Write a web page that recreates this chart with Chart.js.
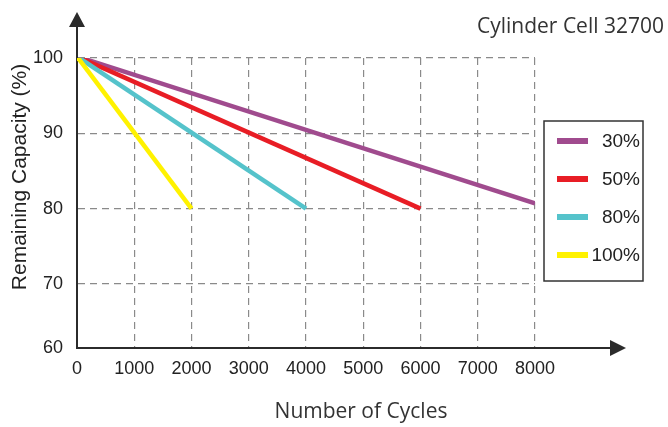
<!DOCTYPE html>
<html><head><meta charset="utf-8">
<style>html,body{margin:0;padding:0;background:#fff;} canvas{display:block;}</style>
<script src="https://cdn.jsdelivr.net/npm/chart.js@4/dist/chart.umd.min.js"></script>
</head><body>
<canvas id="c" width="668" height="427"></canvas>
<script>
const seriesLabels = ['30%', '50%', '80%', '100%'];
const cycles30 = [0, 8000];  const capacity30 = [100.2, 80.7];
const cycles50 = [0, 6000];  const capacity50 = [100.2, 80];
const cycles80 = [0, 4000];  const capacity80 = [100.2, 80];
const cycles100 = [0, 2000]; const capacity100 = [100.2, 80];
const xTicks = [0, 1000, 2000, 3000, 4000, 5000, 6000, 7000, 8000];
const yTicks = [61.5, 70, 80, 90, 100];
const yTickLabels = ['60', '70', '80', '90', '100'];
const chartTitle = 'Cylinder Cell 32700';
const xTitle = 'Number of Cycles';
const yTitle = 'Remaining Capacity (%)';
const colors = ['#a04b8e', '#e81d25', '#55c3cb', '#fff200'];

const pts = (xs, ys) => xs.map((x, i) => ({x, y: ys[i]}));
const seriesX = [cycles30, cycles50, cycles80, cycles100];
const seriesY = [capacity30, capacity50, capacity80, capacity100];

const AXIS = '#2b2b2b';

const decor = {
  id: 'decor',
  afterDraw(chart) {
    const ctx = chart.ctx, a = chart.chartArea;
    ctx.save();
    // axis extensions + arrows
    ctx.strokeStyle = AXIS; ctx.fillStyle = AXIS; ctx.lineWidth = 2;
    ctx.beginPath(); ctx.moveTo(a.left, a.top); ctx.lineTo(a.left, 26); ctx.stroke();
    ctx.beginPath(); ctx.moveTo(a.left - 8, 27); ctx.lineTo(a.left + 8, 27); ctx.lineTo(a.left, 12); ctx.closePath(); ctx.fill();
    ctx.beginPath(); ctx.moveTo(a.right, a.bottom); ctx.lineTo(611, a.bottom); ctx.stroke();
    ctx.beginPath(); ctx.moveTo(610, a.bottom - 8); ctx.lineTo(610, a.bottom + 8); ctx.lineTo(626, a.bottom); ctx.closePath(); ctx.fill();

    // titles
    ctx.fillStyle = '#333';
    ctx.font = '21px "Open Sans"';
    ctx.textAlign = 'right'; ctx.textBaseline = 'middle';
    ctx.fillText(chartTitle, 664, 27);
    ctx.textAlign = 'center';
    ctx.fillText(xTitle, 361, 412);
    ctx.save();
    ctx.translate(20, 177); ctx.rotate(-Math.PI / 2);
    ctx.font = '21px "Liberation Sans", Arial';
    ctx.fillStyle = '#222';
    ctx.fillText(yTitle, 0, 0);
    ctx.restore();

    // legend box
    ctx.fillStyle = '#fff';
    ctx.fillRect(544, 121, 99, 160);
    ctx.strokeStyle = '#333'; ctx.lineWidth = 1.5;
    ctx.strokeRect(544, 121, 99, 160);
    const ys = [141, 179, 217, 255];
    seriesLabels.forEach((lab, i) => {
      ctx.fillStyle = colors[i];
      ctx.fillRect(557, ys[i] - 3, 31, 6);
      ctx.fillStyle = '#222';
      ctx.font = '19px "Liberation Sans", Arial';
      ctx.textAlign = 'right'; ctx.textBaseline = 'middle';
      ctx.fillText(lab, 640, ys[i] + 1);
    });
    ctx.restore();
  }
};

new Chart(document.getElementById('c'), {
  type: 'line',
  data: {
    datasets: seriesLabels.map((lab, i) => ({
      label: lab,
      data: pts(seriesX[i], seriesY[i]),
      borderColor: colors[i],
      backgroundColor: colors[i],
      borderWidth: 4.5,
      pointRadius: 0,
      fill: false,
      tension: 0
    })).reverse()
  },
  options: {
    responsive: false,
    animation: false,
    devicePixelRatio: 1,
    layout: { padding: { top: 58, right: 133, left: 0, bottom: 0 } },
    plugins: { legend: { display: false }, tooltip: { enabled: false } },
    scales: {
      x: {
        type: 'linear', min: 0, max: 8000,
        afterBuildTicks: s => { s.ticks = xTicks.map(v => ({value: v})); },
        afterFit: s => { s.height = 79; },
        ticks: { padding: 10, color: '#222', font: { family: '"Liberation Sans", Arial', size: 18 }, maxRotation: 0,
          callback: v => String(v) },
        grid: { color: '#8a8a8a', lineWidth: 1.2, drawTicks: false },
        border: { color: AXIS, width: 2, dash: [7, 5] }
      },
      y: {
        type: 'linear', min: 61.5, max: 100,
        afterBuildTicks: s => { s.ticks = yTicks.map(v => ({value: v})); },
        afterFit: s => { s.width = 77; },
        ticks: { padding: 14, color: '#222', font: { family: '"Liberation Sans", Arial', size: 18 },
          callback: v => yTickLabels[yTicks.indexOf(v)] },
        grid: { color: '#8a8a8a', lineWidth: 1.2, drawTicks: false },
        border: { color: AXIS, width: 2, dash: [7, 5] }
      }
    }
  },
  plugins: [decor]
});
</script>
</body></html>
